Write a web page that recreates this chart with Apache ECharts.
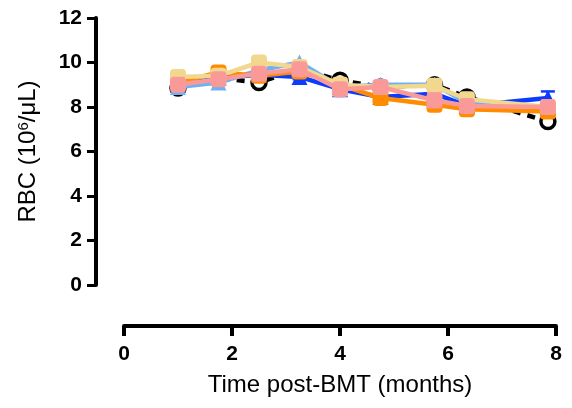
<!DOCTYPE html>
<html>
<head>
<meta charset="utf-8">
<script src="https://cdn.jsdelivr.net/npm/echarts@6/dist/echarts.min.js"></script>
<style>
  html, body { margin: 0; padding: 0; background: #fff; }
  #chart { width: 572px; height: 408px; }
</style>
</head>
<body>
<div id="chart"></div>
<script>
// Sampling times (months post-BMT)
const months = [1.0, 1.75, 2.5, 3.25, 4.0, 4.75, 5.75, 6.35, 7.85];

// RBC counts (10^6/µL) per group
const groupBlack     = [8.85, 9.3, 9.1, 9.7, 9.2, 8.9, 9.0, 8.45, 7.35];
const groupBlue      = [9.0, 9.3, 9.45, 9.35, 8.8, 8.45, 8.6, 8.05, 8.4];
const groupLightBlue = [8.9, 9.1, 9.65, 10.0, 8.9, 9.0, 9.0, 8.2, 8.0];
const groupOrange    = [9.1, 9.55, 9.4, 9.6, 9.0, 8.4, 8.1, 7.9, 7.8];
const groupTan       = [9.35, 9.4, 10.0, 9.8, 9.0, 8.9, 8.95, 8.35, 8.0];
const groupPink      = [9.0, 9.25, 9.5, 9.7, 8.8, 8.9, 8.3, 8.05, 8.0];

// SEM for each group (only the bars that stick out past the markers)
const semBlue = [0.1, 0.1, 0.1, 0.1, 0.1, 0.1, 0.1, 0.1, 0.3];
const semPink = [0.1, 0.1, 0.1, 0.1, 0.1, 0.1, 0.3, 0.1, 0.1];

const yTicks = [0, 2, 4, 6, 8, 10, 12];
const xTicks = [0, 2, 4, 6, 8];

function pairs(ys) { return months.map((m, i) => [m, ys[i]]); }

function lineSeries(name, ys, color, symbol, opts) {
  opts = opts || {};
  return {
    name: name,
    type: 'line',
    data: pairs(ys),
    symbol: symbol,
    symbolSize: opts.size || 16,
    showSymbol: true,
    z: opts.z || 2,
    lineStyle: { color: color, width: 4.5, type: opts.dash ? [8, 7] : 'solid' },
    itemStyle: opts.hollow
      ? { color: '#fff', borderColor: color, borderWidth: 3.5 }
      : { color: color, borderWidth: 0 },
    emphasis: { disabled: true },
    animation: false
  };
}

// Vertical mean ± SEM whiskers with caps
function errorSeries(ys, sem, color, z) {
  return {
    type: 'custom',
    z: z,
    silent: true,
    data: months.map((m, i) => [m, ys[i] - sem[i], ys[i] + sem[i]]),
    renderItem: function (params, api) {
      const lo = api.coord([api.value(0), api.value(1)]);
      const hi = api.coord([api.value(0), api.value(2)]);
      const w = 7;
      const style = { stroke: color, lineWidth: 2.5 };
      return {
        type: 'group',
        children: [
          { type: 'line', shape: { x1: hi[0], y1: hi[1], x2: lo[0], y2: lo[1] }, style: style },
          { type: 'line', shape: { x1: hi[0] - w, y1: hi[1], x2: hi[0] + w, y2: hi[1] }, style: style },
          { type: 'line', shape: { x1: lo[0] - w, y1: lo[1], x2: lo[0] + w, y2: lo[1] }, style: style }
        ]
      };
    },
    animation: false
  };
}

const chart = echarts.init(document.getElementById('chart'), null, { renderer: 'canvas' });

chart.setOption({
  backgroundColor: '#fff',
  animation: false,
  grid: { left: 124, right: 16, top: 18, bottom: 123, containLabel: false },
  xAxis: {
    type: 'value',
    min: 0, max: 8, interval: 2,
    offset: 41,
    name: 'Time post-BMT (months)',
    nameLocation: 'middle',
    nameGap: 47,
    nameTextStyle: { fontFamily: 'Liberation Sans', fontSize: 24, color: '#000' },
    axisLine: { show: true, onZero: false, lineStyle: { color: '#000', width: 4 } },
    axisTick: { show: true, inside: false, length: 10, lineStyle: { color: '#000', width: 4 } },
    axisLabel: {
      fontFamily: 'Liberation Sans', fontWeight: 'bold', fontSize: 21, color: '#000', margin: 18,
      formatter: v => xTicks.includes(v) ? String(v) : ''
    },
    splitLine: { show: false }
  },
  yAxis: {
    type: 'value',
    min: 0, max: 12, interval: 2,
    offset: 28,
    name: 'RBC (10{sup|6}/μL)',
    nameLocation: 'middle',
    nameGap: 55,
    nameRotate: 90,
    nameTextStyle: {
      fontFamily: 'Liberation Sans', fontSize: 24, color: '#000',
      rich: { sup: { fontFamily: 'Liberation Sans', fontSize: 15, color: '#000', verticalAlign: 'top', padding: [0, 0, 10, 0] } }
    },
    axisLine: { show: true, onZero: false, lineStyle: { color: '#000', width: 4 } },
    axisTick: { show: true, length: 9, lineStyle: { color: '#000', width: 3 } },
    axisLabel: {
      fontFamily: 'Liberation Sans', fontWeight: 'bold', fontSize: 21, color: '#000', margin: 14,
      formatter: v => yTicks.includes(v) ? String(v) : ''
    },
    splitLine: { show: false }
  },
  series: [
    lineSeries('Black', groupBlack, '#000000', 'circle', { dash: true, hollow: true, size: 14, z: 2 }),
    errorSeries(groupBlue, semBlue, '#0a3cff', 3),
    lineSeries('Blue', groupBlue, '#0a3cff', 'triangle', { z: 3 }),
    lineSeries('Light blue', groupLightBlue, '#6fb1f5', 'triangle', { z: 4 }),
    lineSeries('Orange', groupOrange, '#ff8c00', 'roundRect', { z: 5 }),
    lineSeries('Tan', groupTan, '#f2d78e', 'roundRect', { z: 6 }),
    errorSeries(groupPink, semPink, '#fa9a98', 7),
    lineSeries('Pink', groupPink, '#fa9a98', 'roundRect', { z: 7 })
  ]
});
</script>
</body>
</html>
